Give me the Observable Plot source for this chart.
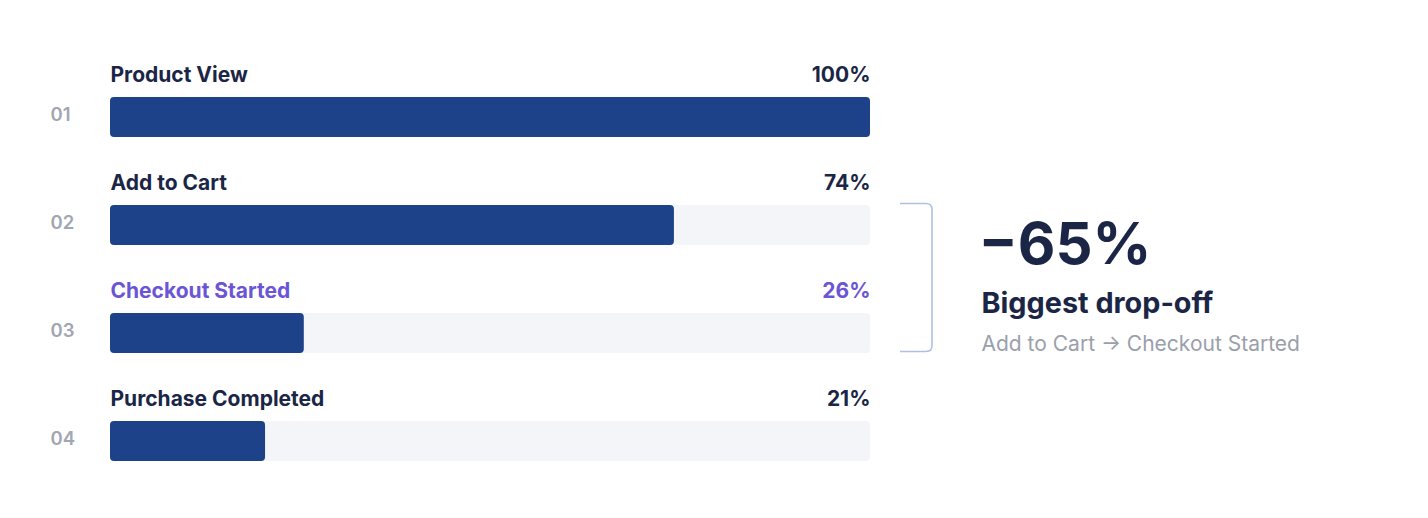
<!DOCTYPE html>
<html><head><meta charset="utf-8">
<script src="https://cdn.jsdelivr.net/npm/d3@7"></script>
<script src="https://cdn.jsdelivr.net/npm/@observablehq/plot@0.6"></script>
<style>html,body{margin:0;padding:0;background:#fff;}</style>
</head><body><div id="chart"></div>
<script>
const stages = ["Product View", "Add to Cart", "Checkout Started", "Purchase Completed"];
const stepNumbers = ["01", "02", "03", "04"];
const values = [100, 74.2, 25.5, 20.4];
const pctLabels = ["100%", "74%", "26%", "21%"];
const highlightStage = "Checkout Started";
const dropFrom = "Add to Cart";
const dropTo = "Checkout Started";
const dropLabel = ["−65%"];
const dropTitle = ["Biggest drop-off"];
const dropSub = ["Add to Cart → Checkout Started"];

const rows = stages.map((s, i) => ({stage: s, num: stepNumbers[i], value: values[i], pct: pctLabels[i]}));
const dark = "#1b2646";
const purple = "#6b55d6";
const labelFill = d => d.stage === highlightStage ? purple : dark;

const bracket = (index, scales) => {
  const y = scales.y, x = scales.x;
  const bw = y.bandwidth ? y.bandwidth() : (scales.scales && scales.scales.y.bandwidth) || 40;
  const top = y(dropFrom) - 1.5, bot = y(dropTo) + bw - 1.5;
  const x0 = x(100) + 30, x1 = x(100) + 62, r = 6;
  const g = d3.create("svg:g");
  g.append("path")
    .attr("d", `M${x0},${top}H${x1 - r}Q${x1},${top} ${x1},${top + r}V${bot - r}Q${x1},${bot} ${x1 - r},${bot}H${x0}`)
    .attr("fill", "none").attr("stroke", "#b0c0e3").attr("stroke-width", 1.6);
  return g.node();
};

const chart = Plot.plot({
  width: 1428, height: 518,
  marginTop: 96, marginBottom: 57, marginLeft: 110, marginRight: 558,
  x: {domain: [0, 100], axis: null},
  y: {domain: stages, axis: null, paddingInner: 0.631, paddingOuter: 0},
  style: {fontFamily: "Inter, sans-serif", background: "#fff", overflow: "visible"},
  marks: [
    Plot.barX(rows, {x1: () => 0, x2: () => 100, y: "stage", fill: "#f3f5f9", rx: 4}),
    Plot.barX(rows, {x: "value", y: "stage", fill: "#1e428a", rx: 4}),
    Plot.text(rows, {x: () => 0, y: "stage", text: "stage", textAnchor: "start", dy: -42, fontSize: 21, fontWeight: 700, fill: labelFill}),
    Plot.text(rows, {x: () => 100, y: "stage", text: "pct", textAnchor: "end", dy: -42, fontSize: 21, fontWeight: 700, fill: labelFill}),
    Plot.text(rows, {x: () => 0, y: "stage", text: "num", textAnchor: "start", dx: -60, dy: -2, fontSize: 18.5, fontWeight: 600, fill: "#a1a6b2"}),
    bracket,
    Plot.text(dropLabel, {x: () => 100, y: () => dropFrom, text: d => d, textAnchor: "start", dx: 108, dy: 19.5, fontSize: 58, fontWeight: 700, fill: dark}),
    Plot.text(dropTitle, {x: () => 100, y: () => dropFrom, text: d => d, textAnchor: "start", dx: 111, dy: 78, fontSize: 28.8, fontWeight: 700, fill: dark}),
    Plot.text(dropSub, {x: () => 100, y: () => dropFrom, text: d => d, textAnchor: "start", dx: 111, dy: 119, fontSize: 21, fontWeight: 400, fill: "#9aa0ab"})
  ]
});
document.getElementById("chart").append(chart);
</script>
</body></html>
